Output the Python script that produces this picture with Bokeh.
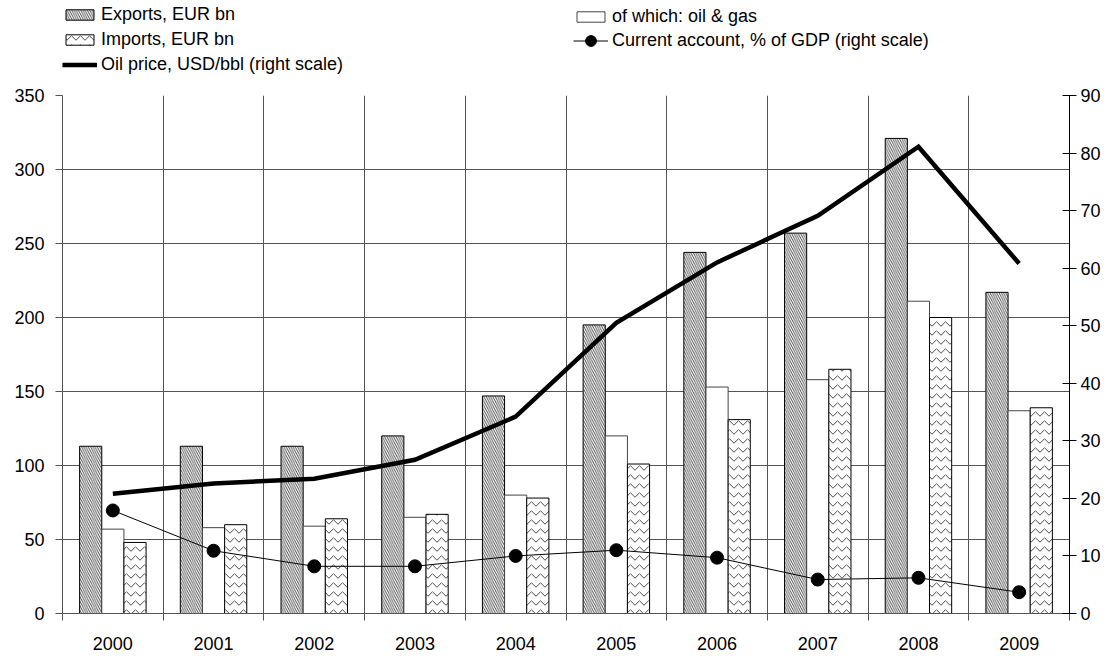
import numpy as np
from bokeh.plotting import figure
from bokeh.layouts import column
from bokeh.models import (Range1d, LinearAxis, FixedTicker, Legend, LegendItem,
                          ColumnDataSource, CustomJSTickFormatter)
from bokeh.transform import dodge
from bokeh.embed import file_html
from bokeh.resources import INLINE

# ---- data ----
years = ["2000", "2001", "2002", "2003", "2004", "2005", "2006", "2007", "2008", "2009"]
exports = [113, 113, 113, 120, 147, 195, 244, 257, 321, 217]
oil_gas = [57, 58, 59, 65, 80, 120, 153, 158, 211, 137]
imports = [48, 60, 64, 67, 78, 101, 131, 165, 200, 139]
oil_price = [20.8, 22.6, 23.4, 26.7, 34.2, 50.5, 61.0, 69.1, 81.1, 60.8]
current_account = [17.9, 10.9, 8.2, 8.2, 10.0, 11.0, 9.7, 5.9, 6.2, 3.7]

left_ticks = [0, 50, 100, 150, 200, 250, 300, 350]
right_ticks = [0, 10, 20, 30, 40, 50, 60, 70, 80, 90]

FONT = "Liberation Sans"
FS = "18px"
GRID = "#555555"
W = 1108
LEG_H = 85

EXP_STYLE = dict(fill_color="white", line_color="black", line_width=1,
                 hatch_pattern="left_diagonal_line", hatch_color="black",
                 hatch_scale=4.5, hatch_weight=0.7)
OG_STYLE = dict(fill_color="white", line_color="#444444", line_width=1)
IMP_STYLE = dict(fill_color="white", line_color="black", line_width=1,
                 hatch_pattern="horizontal_wave", hatch_color="black",
                 hatch_scale=9, hatch_weight=0.7)
OIL_STYLE = dict(line_color="black", line_width=4.5, line_join="miter")
CA_LINE = dict(line_color="black", line_width=1)
CA_PTS = dict(marker="circle", size=13, fill_color="black", line_color="black")

xs = [i + 0.5 for i in range(len(years))]
src = ColumnDataSource(dict(x=xs, year=years, exports=exports, oil_gas=oil_gas,
                            imports=imports, oil=oil_price, ca=current_account))

# ---------------- main chart ----------------
p = figure(width=W, height=659 - LEG_H, output_backend="svg", toolbar_location=None,
           x_range=Range1d(0, len(years)), y_range=Range1d(0, 350),
           min_border_left=62, min_border_right=39, min_border_top=10,
           min_border_bottom=46)
p.outline_line_color = None
p.background_fill_color = "white"
p.border_fill_color = "white"
p.extra_y_ranges = {"right": Range1d(0, 90)}

p.xgrid.ticker = FixedTicker(ticks=list(range(len(years) + 1)))
p.ygrid.ticker = FixedTicker(ticks=left_ticks)
for g in (p.xgrid[0], p.ygrid[0]):
    g.grid_line_color = GRID
    g.grid_line_width = 1

bw = 0.22
p.vbar(x=dodge("x", -bw, range=p.x_range), top="exports", width=bw, source=src, **EXP_STYLE)
p.vbar(x="x", top="oil_gas", width=bw, source=src, **OG_STYLE)
p.vbar(x=dodge("x", bw, range=p.x_range), top="imports", width=bw, source=src, **IMP_STYLE)

p.line(x="x", y="oil", source=src, y_range_name="right", **OIL_STYLE)
p.line(x="x", y="ca", source=src, y_range_name="right", **CA_LINE)
p.scatter(x="x", y="ca", source=src, y_range_name="right", **CA_PTS)

xa = p.xaxis[0]
xa.ticker = FixedTicker(ticks=xs, minor_ticks=list(range(len(years) + 1)))
xa.formatter = CustomJSTickFormatter(args=dict(labels=years),
                                     code="return labels[Math.floor(tick)];")
xa.major_tick_out = 0
xa.major_tick_in = 0
xa.minor_tick_out = 7
xa.minor_tick_in = 0
xa.minor_tick_line_color = GRID
xa.axis_line_color = GRID
xa.major_label_standoff = 16

ya = p.yaxis[0]
ya.ticker = FixedTicker(ticks=left_ticks)
ya.major_tick_out = 7
ya.major_tick_in = 0
ya.minor_tick_line_color = None
ya.axis_line_color = GRID
ya.major_tick_line_color = GRID
ya.major_label_standoff = 11

ra = LinearAxis(y_range_name="right", ticker=FixedTicker(ticks=right_ticks))
ra.major_tick_out = 7
ra.major_tick_in = 7
ra.minor_tick_line_color = None
ra.axis_line_color = "black"
ra.major_tick_line_color = "black"
ra.major_label_standoff = 4
p.add_layout(ra, "right")

for ax in (xa, ya, ra):
    ax.major_label_text_font = FONT
    ax.major_label_text_font_size = FS
    ax.major_label_text_color = "black"

# ---------------- legend strip ----------------
lf = figure(width=W, height=LEG_H, output_backend="svg", toolbar_location=None,
            x_range=Range1d(0, 1), y_range=Range1d(0, 1),
            min_border=0, x_axis_type=None, y_axis_type=None)
lf.outline_line_color = None
lf.grid.visible = False
lf.background_fill_color = "white"
lf.border_fill_color = "white"

# legend proxies: NaN data, so they draw nothing in the strip itself
nan1 = np.array([np.nan])
nan2 = np.array([np.nan, np.nan])
l_exp = lf.vbar(x=nan1, top=nan1, width=0.1, **EXP_STYLE)
l_og = lf.vbar(x=nan1, top=nan1, width=0.1, **OG_STYLE)
l_imp = lf.vbar(x=nan1, top=nan1, width=0.1, **IMP_STYLE)
l_oil = lf.line(x=nan2, y=nan2, **OIL_STYLE)
l_cal = lf.line(x=nan2, y=nan2, **CA_LINE)
l_cap = lf.scatter(x=nan1, y=nan1, **CA_PTS)


def mk_legend(items, loc, gh=13, lh=20):
    lg = Legend(items=items, location=loc)
    lg.background_fill_alpha = 0
    lg.border_line_alpha = 0
    lg.padding = 0
    lg.margin = 0
    lg.spacing = 4
    lg.label_standoff = 4
    lg.glyph_width = 35
    lg.glyph_height = gh
    lg.label_height = lh
    lg.label_text_font = FONT
    lg.label_text_font_size = FS
    lg.label_text_color = "black"
    return lg


# the strip's frame is aligned with the chart's frame (starts 62px in)
leg1 = mk_legend([
    LegendItem(label="Exports, EUR bn", renderers=[l_exp]),
    LegendItem(label="Imports, EUR bn", renderers=[l_imp]),
    LegendItem(label="Oil price, USD/bbl (right scale)", renderers=[l_oil]),
], (0, 10))
leg2 = mk_legend([
    LegendItem(label="of which: oil & gas", renderers=[l_og]),
], (511, 58))
leg3 = mk_legend([
    LegendItem(label="Current account, % of GDP (right scale)", renderers=[l_cal, l_cap]),
], (511, 31), gh=27, lh=27)
lf.add_layout(leg1, "center")
lf.add_layout(leg2, "center")
lf.add_layout(leg3, "center")

layout = column(lf, p, spacing=0)
open("out.html", "w").write(file_html(layout, INLINE))
